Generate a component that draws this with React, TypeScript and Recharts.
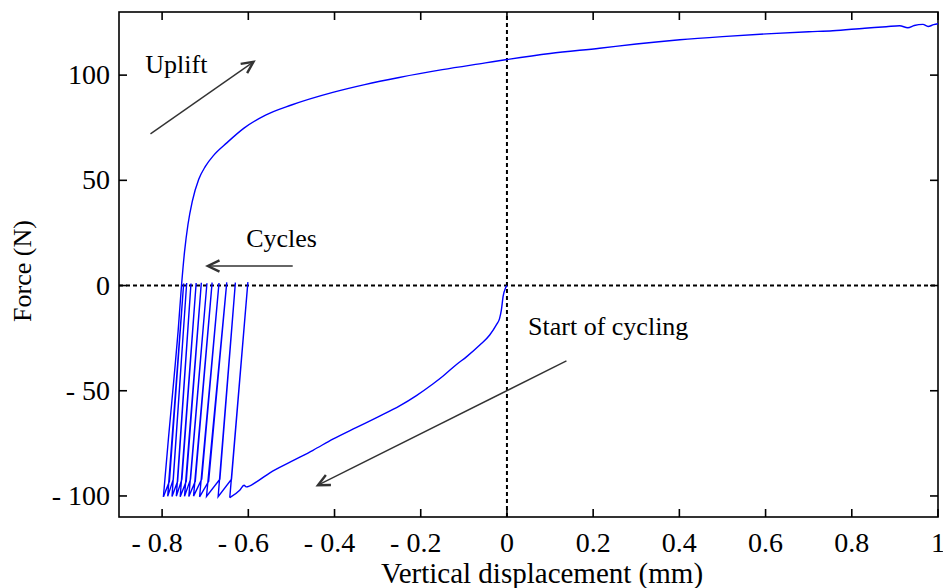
import React from 'react';
import { LineChart, Line, XAxis, YAxis, ReferenceLine, ReferenceDot, Label } from 'recharts';

// ---- axis ticks ----
const xTicks = [-0.8, -0.6, -0.4, -0.2, 0, 0.2, 0.4, 0.6, 0.8, 1];
const yTicks = [-100, -50, 0, 50, 100];
const xDomain = [-0.9, 1];
const yDomain = [-110, 130];

// ---- start of cycling: loading from (0,0) down to the first bottom ----
const loadX = [0, -0.003, -0.009, -0.013, -0.017, -0.025, -0.04, -0.063, -0.094, -0.117, -0.148, -0.172, -0.21, -0.249, -0.3, -0.35, -0.404, -0.45, -0.5, -0.55, -0.581, -0.605, -0.61, -0.62, -0.643];
const loadY = [0, -1, -5.3, -11.7, -15.6, -18.8, -23.5, -28.3, -33.9, -37.5, -43, -46.8, -52.3, -57.2, -62.5, -67.5, -73, -78.3, -83.6, -89, -93.3, -95.7, -94.9, -97.3, -100.8];

// ---- cycles between -100 N and 0 N ----
const bottomX = [-0.643, -0.670, -0.697, -0.713, -0.727, -0.738, -0.748, -0.758, -0.767, -0.777, -0.787, -0.797];
const bottomY = [-100.8, -100.3, -100.2, -100.4, -100.1, -100.3, -100.2, -100.4, -100.1, -100.3, -100.2, -100.4];
const topX = [-0.601, -0.630, -0.650, -0.668, -0.684, -0.696, -0.709, -0.721, -0.733, -0.743, -0.750];
const topY = [1.6, 1.4, 1.5, 1.2, 1.4, 1.1, 1.3, 1.2, 1.0, 1.2, 1.0];
const kneeX = [-0.639, -0.666, -0.692, -0.708, -0.723, -0.734, -0.744, -0.754, -0.764, -0.774, -0.783];
const kneeY = [-92, -92, -93, -92, -93, -92, -93, -92, -93, -92, -93];

// ---- uplift curve ----
const upliftX = [-0.797, -0.785, -0.772, -0.763, -0.755, -0.748, -0.74, -0.73, -0.715, -0.7, -0.68, -0.65, -0.61, -0.56, -0.5, -0.404, -0.33, -0.25, -0.15, -0.05, 0, 0.1, 0.215, 0.3, 0.401, 0.5, 0.602, 0.7, 0.756, 0.83, 0.88, 0.911, 0.93, 0.945, 0.965, 0.977, 0.99, 1.0];
const upliftY = [-100.4, -72, -43, -22, 0, 16, 29, 40, 50.5, 56.5, 62, 67.8, 74.8, 81, 85.8, 91.8, 95.5, 98.9, 102.6, 105.8, 107.4, 110.3, 112.8, 114.8, 116.8, 118.3, 119.6, 120.6, 121.1, 122.3, 123, 123.5, 122.5, 123.6, 124.1, 123.1, 124, 124.4];

// ---- annotations ----
const noteText = ['Uplift', 'Cycles', 'Start of cycling'];
const noteX = [-0.839, -0.605, 0.049];
const noteY = [101.1, 18.5, -23.5];
const arrowFromX = [-0.827, -0.497, 0.138];
const arrowFromY = [72.1, 9.3, -35.8];
const arrowToX = [-0.588, -0.694, -0.4385];
const arrowToY = [106.3, 9.3, -94.9];

const loadData = loadX.map((x, i) => ({ x, y: loadY[i] })).reverse();
const cycleData: { x: number; y: number }[] = [];
topX.forEach((_, k) => {
  cycleData.push({ x: bottomX[k], y: bottomY[k] });
  cycleData.push({ x: topX[k], y: topY[k] });
  cycleData.push({ x: kneeX[k], y: kneeY[k] });
});
cycleData.push({ x: bottomX[bottomX.length - 1], y: bottomY[bottomY.length - 1] });
const upliftData = upliftX.map((x, i) => ({ x, y: upliftY[i] }));

// ---- layout ----
const W = 943;
const H = 588;
const M = { top: 12, right: 5, bottom: 0, left: 0 };
const XAXIS_H = 71;
const YAXIS_W = 119;
const PLOT_TOP = M.top;
const PLOT_BOTTOM = H - M.bottom - XAXIS_H;
const PLOT_LEFT = M.left + YAXIS_W;
const PLOT_RIGHT = W - M.right;
const TICK_PX = 8;

const FONT = '"Liberation Serif", "Times New Roman", serif';
const fmt = (v: number) => (v < 0 ? `- ${Math.abs(v)}` : `${v}`);

const XTick = (p: any) => {
  const v = p.payload.value;
  return (
    <g>
      <line x1={p.x} x2={p.x} y1={PLOT_BOTTOM} y2={PLOT_BOTTOM - TICK_PX} stroke="#000" strokeWidth={1.6} />
      <line x1={p.x} x2={p.x} y1={PLOT_TOP} y2={PLOT_TOP + TICK_PX} stroke="#000" strokeWidth={1.6} />
      <text x={p.x - (v < 0 ? 5 : 0)} y={PLOT_BOTTOM + 35} textAnchor="middle" fontSize={28} fontFamily={FONT} fill="#000">
        {fmt(v)}
      </text>
    </g>
  );
};

const YTick = (p: any) => (
  <g>
    <line x1={PLOT_LEFT} x2={PLOT_LEFT + TICK_PX} y1={p.y} y2={p.y} stroke="#000" strokeWidth={1.6} />
    <line x1={PLOT_RIGHT} x2={PLOT_RIGHT - TICK_PX} y1={p.y} y2={p.y} stroke="#000" strokeWidth={1.6} />
    <text x={PLOT_LEFT - 9} y={p.y + 9} textAnchor="end" fontSize={28} fontFamily={FONT} fill="#000">
      {fmt(p.payload.value)}
    </text>
  </g>
);

const Arrow = (props: any) => {
  const { x1, y1, x2, y2 } = props;
  const a = Math.atan2(y2 - y1, x2 - x1);
  const L = 13;
  const s = 0.45;
  const p1 = [x2 - L * Math.cos(a - s), y2 - L * Math.sin(a - s)];
  const p2 = [x2 - L * Math.cos(a + s), y2 - L * Math.sin(a + s)];
  return (
    <g>
      <line x1={x1} y1={y1} x2={x2} y2={y2} stroke="#333" strokeWidth={1.4} />
      <path d={`M${p1[0]},${p1[1]} L${x2},${y2} L${p2[0]},${p2[1]}`} fill="none" stroke="#333" strokeWidth={2.4} />
    </g>
  );
};

const Frame = (p: any) => {
  const { x1, y1, x2, y2 } = p;
  return (
    <rect
      x={Math.min(x1, x2)}
      y={Math.min(y1, y2)}
      width={Math.abs(x2 - x1)}
      height={Math.abs(y2 - y1)}
      fill="none"
      stroke="#000"
      strokeWidth={1.6}
    />
  );
};

export default function App() {
  return (
    <div style={{ position: 'absolute', left: 0, top: 0, width: W, height: H, background: '#fff' }}>
      <LineChart width={W} height={H} margin={M}>
        <XAxis
          dataKey="x"
          type="number"
          domain={xDomain}
          ticks={xTicks}
          height={XAXIS_H}
          tickLine={false}
          axisLine={false}
          tick={<XTick />}
          interval={0}
        >
          <Label
            content={() => (
              <text x={542} y={583} textAnchor="middle" fontSize={29} fontFamily={FONT} fill="#000">
                Vertical displacement (mm)
              </text>
            )}
          />
        </XAxis>
        <YAxis
          dataKey="y"
          type="number"
          domain={yDomain}
          ticks={yTicks}
          width={YAXIS_W}
          tickLine={false}
          axisLine={false}
          tick={<YTick />}
          interval={0}
        >
          <Label
            content={() => (
              <text
                x={31}
                y={271}
                transform="rotate(-90 31 271)"
                textAnchor="middle"
                fontSize={26}
                fontFamily={FONT}
                fill="#000"
              >
                Force (N)
              </text>
            )}
          />
        </YAxis>
        <ReferenceLine x={0} stroke="#000" strokeWidth={2} strokeDasharray="4 3" />
        <ReferenceLine y={0} stroke="#000" strokeWidth={2} strokeDasharray="4 3" />
        <ReferenceLine
          segment={[
            { x: xDomain[0], y: yDomain[0] },
            { x: xDomain[1], y: yDomain[1] },
          ]}
          shape={Frame}
          ifOverflow="visible"
        />
        <Line
          data={loadData}
          dataKey="y"
          stroke="#0000ff"
          strokeWidth={1.4}
          dot={false}
          activeDot={false}
          isAnimationActive={false}
          type="monotoneX"
        />
        <Line
          data={cycleData}
          dataKey="y"
          stroke="#0000ff"
          strokeWidth={1.4}
          dot={false}
          activeDot={false}
          isAnimationActive={false}
          type="linear"
        />
        <Line
          data={upliftData}
          dataKey="y"
          stroke="#0000ff"
          strokeWidth={1.4}
          dot={false}
          activeDot={false}
          isAnimationActive={false}
          type="monotoneX"
        />
        {noteText.map((_, i) => (
          <ReferenceLine
            key={'arr' + i}
            segment={[
              { x: arrowFromX[i], y: arrowFromY[i] },
              { x: arrowToX[i], y: arrowToY[i] },
            ]}
            shape={Arrow}
          />
        ))}
        {noteText.map((t, i) => (
          <ReferenceDot
            key={'txt' + i}
            x={noteX[i]}
            y={noteY[i]}
            r={0}
            shape={(p: any) => (
              <text x={p.cx} y={p.cy} fontSize={26} fontFamily={FONT} fill="#000">
                {t}
              </text>
            )}
          />
        ))}
      </LineChart>
    </div>
  );
}
